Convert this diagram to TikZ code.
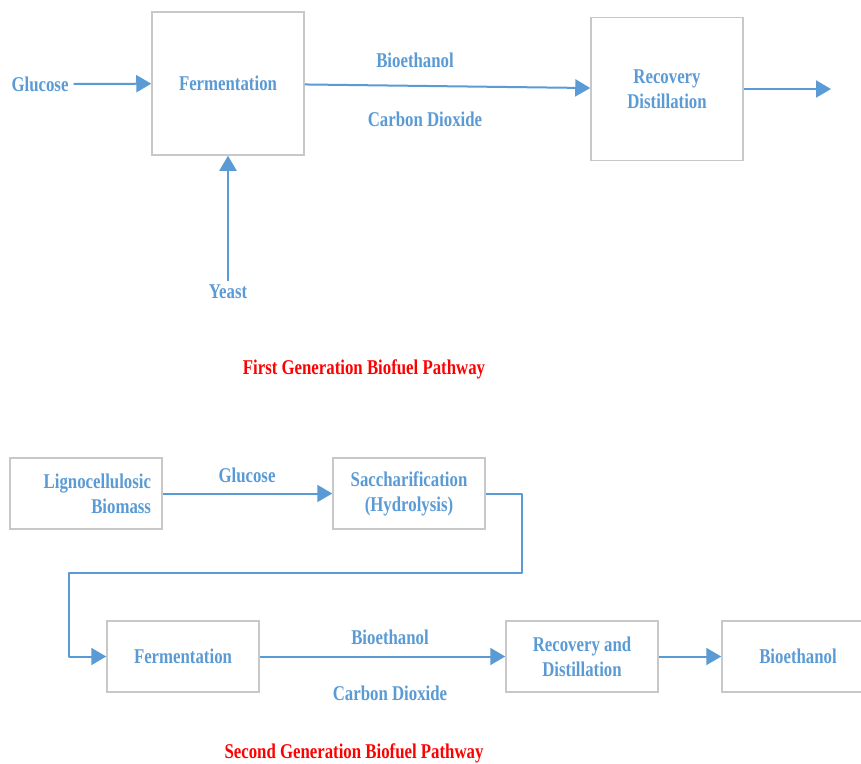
\documentclass[tikz,border=0pt]{standalone}
\usepackage{fontspec}
\setmainfont{Liberation Serif}[FakeStretch=0.8]
\usetikzlibrary{positioning,arrows.meta}
\definecolor{flowblue}{HTML}{5B9BD5}
\definecolor{boxgray}{HTML}{C8C8C8}

\begin{document}
\begin{tikzpicture}[
  x=1pt, y=-1pt,
  every node/.style={font=\fontsize{21}{25}\selectfont\bfseries, text=flowblue},
  procbox/.style={
    draw=boxgray, line width=1.5pt,
    minimum width=152pt, inner sep=4pt, align=center
  },
  tall/.style={minimum height=143pt},
  flat/.style={minimum height=71pt},
  title/.style={text=red},
  arr/.style={-{Triangle[length=15pt,width=17pt]}, line width=2pt,
    line join=round, flowblue}
]

  \clip (0,0) rectangle (861,763);
  \fill[white] (0,0) rectangle (861,763);

  % First generation
  \node[procbox, tall] (ferm1) at (228,83.5) {Fermentation};
  \node[procbox, tall] (reco1) at (667,89)   {Recovery\\Distillation};
  \node[inner sep=5pt] (gluc1) at (40,84) {Glucose};
  \node (yeast) at (228,292) {Yeast};
  \coordinate (out1) at (831,89);

  \draw[arr] (gluc1) -- (ferm1);
  \draw[arr] (yeast) -- (ferm1);
  \draw[arr] (ferm1) -- (reco1);
  \draw[arr] (reco1) -- (out1);

  \node (bio1) at (415,60)  {Bioethanol};
  \node (co2a) at (425,119) {Carbon Dioxide};
  \node[title] (gen1) at (364,369) {First Generation Biofuel Pathway};

  % Second generation
  \node[procbox, flat, text width=130pt, align=right] (ligno) at (86,493.5)
    {Lignocellulosic\\Biomass};
  \node[procbox, flat] (sacch)  at (409,493.5) {Saccharification\\(Hydrolysis)};
  \node[procbox, flat] (ferm2)  at (183,656.5) {Fermentation};
  \node[procbox, flat] (reco2)  at (582,656.5) {Recovery and\\Distillation};
  \node[procbox, flat] (bioeth) at (798,656.5) {Bioethanol};
  \coordinate (bendR) at (522,573);
  \coordinate (bendL) at (69,573);

  \draw[arr] (ligno) -- (sacch);
  \draw[arr] (sacch.east) -| (bendR) -- (bendL) |- (ferm2.west);
  \draw[arr] (ferm2) -- (reco2);
  \draw[arr] (reco2) -- (bioeth);

  \node (gluc2) at (247,475) {Glucose};
  \node (bio2)  at (390,637) {Bioethanol};
  \node (co2b)  at (390,693) {Carbon Dioxide};
  \node[title] (gen2) at (354,753) {Second Generation Biofuel Pathway};

\end{tikzpicture}
\end{document}
